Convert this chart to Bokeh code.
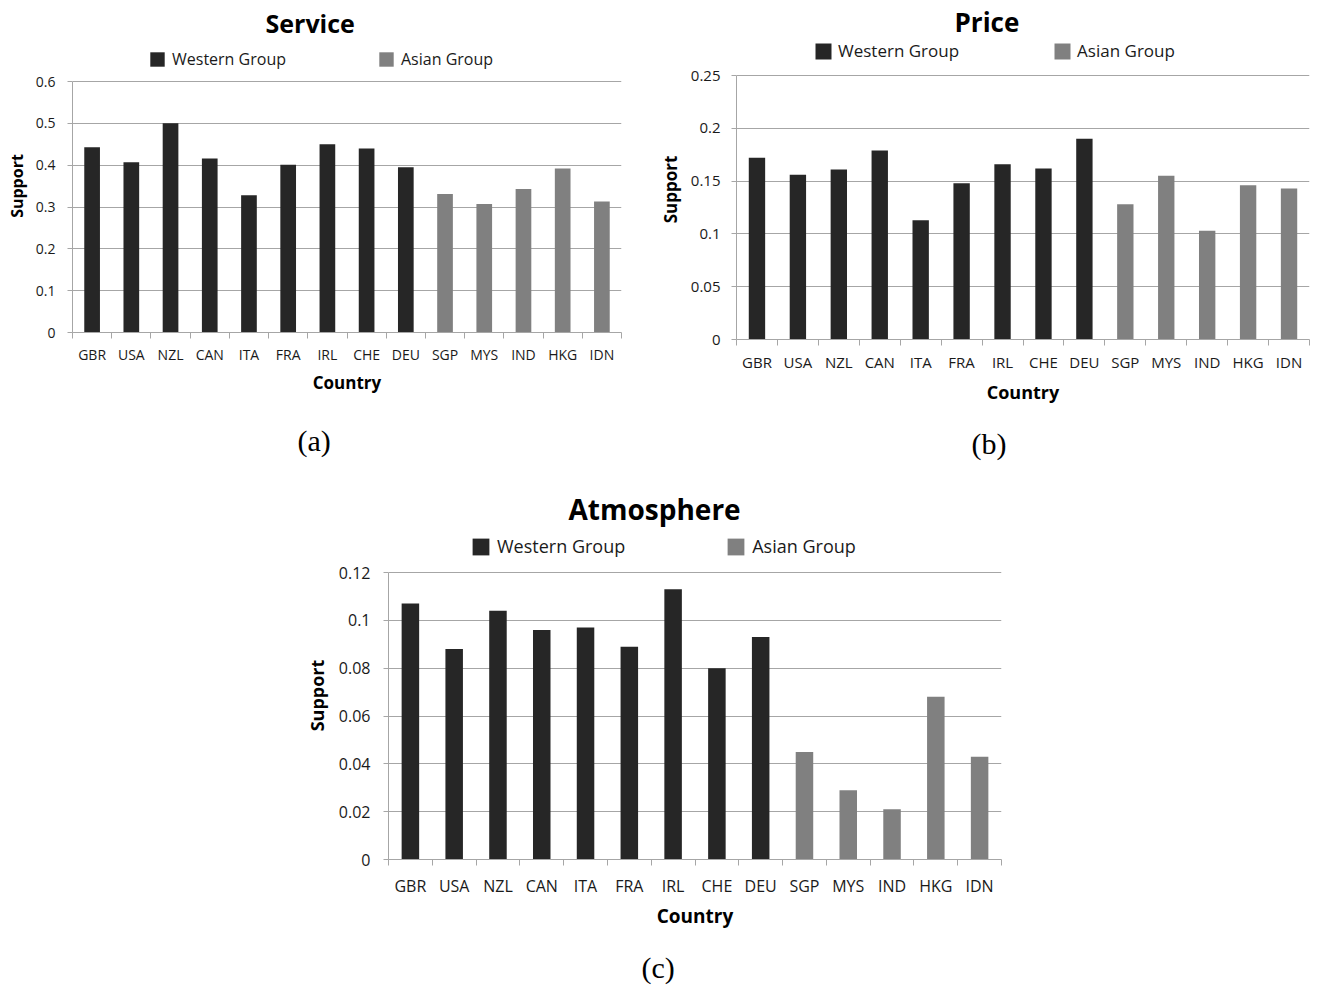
from bokeh.plotting import figure
from bokeh.models import Range1d, FixedTicker, Legend, LegendItem, Title, ColumnDataSource, Spacer
from bokeh.layouts import column, row
from bokeh.embed import file_html
from bokeh.resources import INLINE

countries = ["GBR", "USA", "NZL", "CAN", "ITA", "FRA", "IRL", "CHE", "DEU",
             "SGP", "MYS", "IND", "HKG", "IDN"]
n_western = 9
group_names = ["Western Group", "Asian Group"]
group_colors = ["#262626", "#808080"]

service = [0.443, 0.407, 0.500, 0.416, 0.328, 0.401, 0.450, 0.440, 0.395,
           0.331, 0.307, 0.343, 0.392, 0.313]
price = [0.172, 0.156, 0.161, 0.179, 0.113, 0.148, 0.166, 0.162, 0.190,
         0.128, 0.155, 0.103, 0.146, 0.143]
atmosphere = [0.107, 0.088, 0.104, 0.096, 0.097, 0.089, 0.113, 0.080, 0.093,
              0.045, 0.029, 0.021, 0.068, 0.043]

service_ticks = [0, 0.1, 0.2, 0.3, 0.4, 0.5, 0.6]
service_labels = ["0", "0.1", "0.2", "0.3", "0.4", "0.5", "0.6"]
price_ticks = [0, 0.05, 0.1, 0.15, 0.2, 0.25]
price_labels = ["0", "0.05", "0.1", "0.15", "0.2", "0.25"]
atmo_ticks = [0, 0.02, 0.04, 0.06, 0.08, 0.1, 0.12]
atmo_labels = ["0", "0.02", "0.04", "0.06", "0.08", "0.1", "0.12"]

FONT = "Open Sans"
GRID = "#a6a6a6"


def make_panel(title, caption, values, yticks, ylabels, cfg):
    n = len(countries)
    # plotting area = axis area (fh) + legend strip above it (ext)
    fh_total = cfg["fh"] + cfg["ext"]
    ytop = yticks[-1] * fh_total / cfg["fh"]
    p = figure(output_backend="svg", toolbar_location=None,
               frame_width=cfg["fw"], frame_height=fh_total,
               min_border_left=cfg["bl"], min_border_right=cfg["br"],
               min_border_top=cfg["bt"], min_border_bottom=cfg["bb"],
               x_range=Range1d(0, n), y_range=Range1d(yticks[0], ytop),
               tools="")
    p.outline_line_color = None
    p.background_fill_color = "white"
    p.border_fill_color = "white"

    renderers = []
    for gi, (lo, hi) in enumerate([(0, n_western), (n_western, n)]):
        src = ColumnDataSource(dict(x=[i + 0.5 for i in range(lo, hi)],
                                    top=values[lo:hi]))
        r = p.vbar(x="x", top="top", bottom=0, width=0.4, source=src,
                   fill_color=group_colors[gi], line_color=None)
        renderers.append(r)

    # title
    p.title.text = title
    p.title.text_font = FONT
    p.title.text_font_size = cfg["title_fs"]
    p.title.text_font_style = "bold"
    p.title.align = "left"
    p.title.offset = cfg["title_off"]
    p.title.standoff = cfg["title_sd"]
    p.title.text_color = "black"

    legend = Legend(items=[LegendItem(label=group_names[0], renderers=[renderers[0]]),
                           LegendItem(label=group_names[1], renderers=[renderers[1]])],
                    orientation="horizontal", location=cfg["leg_loc"],
                    spacing=cfg["leg_sp"], padding=0, margin=0,
                    border_line_color=None, background_fill_alpha=0,
                    glyph_width=cfg["gw"], glyph_height=cfg["gw"],
                    label_standoff=cfg["leg_so"], label_text_font=FONT,
                    label_text_font_size=cfg["leg_fs"], label_text_color="#1a1a1a")
    p.add_layout(legend, "center")

    # axes
    xa = p.xaxis[0]
    xa.ticker = FixedTicker(ticks=[i + 0.5 for i in range(n)],
                            minor_ticks=list(range(n + 1)))
    xa.major_label_overrides = {i + 0.5: c for i, c in enumerate(countries)}
    xa.major_tick_in = 0
    xa.major_tick_out = 0
    xa.major_tick_line_color = None
    xa.minor_tick_in = 0
    xa.minor_tick_out = 6
    xa.minor_tick_line_color = GRID
    xa.axis_line_color = GRID
    xa.major_label_text_font = FONT
    xa.major_label_text_font_size = cfg["tick_fs"]
    xa.major_label_text_color = "#1a1a1a"
    xa.major_label_standoff = cfg["xl_sd"]
    xa.axis_label = "Country"
    xa.axis_label_text_font = FONT
    xa.axis_label_text_font_style = "bold"
    xa.axis_label_text_font_size = cfg["lab_fs"]
    xa.axis_label_standoff = cfg["xa_sd"]
    xa.axis_label_text_color = "black"

    ya = p.yaxis[0]
    ya.bounds = (yticks[0], yticks[-1])
    ya.ticker = FixedTicker(ticks=yticks, minor_ticks=[])
    ya.major_label_overrides = {t: l for t, l in zip(yticks, ylabels)}
    ya.major_tick_in = 0
    ya.major_tick_out = 5
    ya.major_tick_line_color = GRID
    ya.minor_tick_line_color = None
    ya.axis_line_color = GRID
    ya.major_label_text_font = FONT
    ya.major_label_text_font_size = cfg["tick_fs"]
    ya.major_label_text_color = "#1a1a1a"
    ya.major_label_standoff = cfg["yl_sd"]
    ya.axis_label = "Support"
    ya.axis_label_text_font = FONT
    ya.axis_label_text_font_style = "bold"
    ya.axis_label_text_font_size = cfg["ylab_fs"]
    ya.axis_label_standoff = cfg["ya_sd"]
    ya.axis_label_text_color = "black"

    p.xgrid.visible = False
    p.ygrid.ticker = FixedTicker(ticks=yticks)
    p.ygrid.grid_line_color = GRID

    cap = Title(text=caption, align="left", offset=cfg["cap_off"],
                standoff=cfg["cap_sd"],
                text_font="Liberation Serif", text_font_size="30px",
                text_font_style="normal", text_color="black")
    p.add_layout(cap, "below")
    return p


cfg_a = dict(fw=549, fh=251, ext=42, bl=72, br=30, bt=39, bb=137,
             title_fs="25px", title_off=193, title_sd=0,
             leg_loc=(76, 262), leg_sp=91, gw=18, leg_so=6,
             leg_fs="16px", tick_fs="14px", xl_sd=6, xa_sd=4, yl_sd=12, ya_sd=5,
             lab_fs="17px", ylab_fs="16px", cap_off=225, cap_sd=50)
cfg_b = dict(fw=573, fh=264, bl=85, br=6, bt=39, bb=130, ext=36,
             title_fs="26px", title_off=218, title_sd=0,
             leg_loc=(77, 277), leg_sp=93, gw=20, leg_so=5,
             leg_fs="17px", tick_fs="15px", xl_sd=6, xa_sd=5, yl_sd=11, ya_sd=6,
             lab_fs="18px", ylab_fs="17px", cap_off=235, cap_sd=36)
cfg_c = dict(fw=613, fh=287, bl=87, br=20, bt=50, bb=128, ext=41,
             title_fs="28px", title_off=180, title_sd=7,
             leg_loc=(82, 301), leg_sp=100, gw=21, leg_so=6,
             leg_fs="18px", tick_fs="16px", xl_sd=9, xa_sd=3, yl_sd=13, ya_sd=7,
             lab_fs="19px", ylab_fs="18px", cap_off=253, cap_sd=35)

pa = make_panel("Service", "(a)", service, service_ticks, service_labels, cfg_a)
pb = make_panel("Price", "(b)", price, price_ticks, price_labels, cfg_b)
pc = make_panel("Atmosphere", "(c)", atmosphere, atmo_ticks, atmo_labels, cfg_c)

layout = column(row(pa, pb, spacing=0),
                row(Spacer(width=301, height=10), pc, spacing=0),
                spacing=0)

open("out.html", "w").write(file_html(layout, INLINE))
